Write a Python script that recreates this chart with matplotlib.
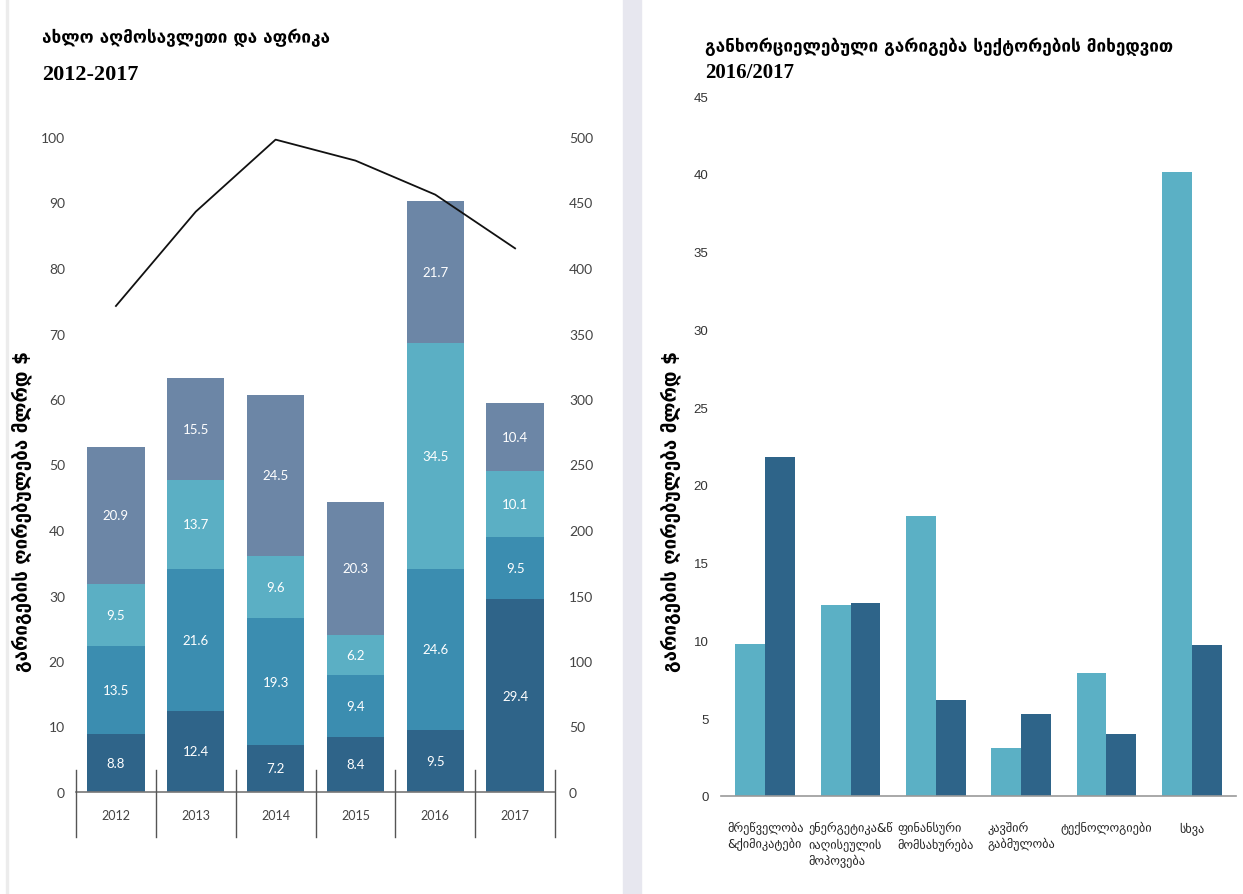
import numpy as np
import matplotlib.pyplot as plt
from matplotlib.patches import Rectangle

# stacked deal values by year, bn $
years = ['2012', '2013', '2014', '2015', '2016', '2017']
seg1 = [8.8, 12.4, 7.2, 8.4, 9.5, 29.4]
seg2 = [13.5, 21.6, 19.3, 9.4, 24.6, 9.5]
seg3 = [9.5, 13.7, 9.6, 6.2, 34.5, 10.1]
seg4 = [20.9, 15.5, 24.5, 20.3, 21.7, 10.4]
deal_count = [371, 443, 498, 482, 456, 415]

# deal value by sector
sectors = ['მრეწველობა\n&ქიმიკატები', 'ენერგეტიკა&წ\nიაღისეულის\nმოპოვება',
           'ფინანსური\nმომსახურება', 'კავშირ\nგაბმულობა', 'ტექნოლოგიები', 'სხვა']
val_2016 = [9.8, 12.3, 18.0, 3.1, 7.9, 40.1]
val_2017 = [21.8, 12.4, 6.2, 5.3, 4.0, 9.7]

seg_colors = ['#2f6489', '#3b8db0', '#5bafc4', '#6c86a6']
light = '#5bb0c5'
dark = '#2e6489'

ylabel = 'გარიგების ღირებულება მლრდ $'
num_font = ['Lato', 'DejaVu Sans']
serif = ['Liberation Serif', 'DejaVu Serif']

W, H = 1243, 895
fig = plt.figure(figsize=(W / 100, H / 100), dpi=100)
fig.patch.set_facecolor('white')

# panel divider and left edge strip
fig.patches.append(Rectangle((623 / W, 0), 18 / W, 1, transform=fig.transFigure,
                             color='#e7e7ef', zorder=0))
fig.patches.append(Rectangle((6 / W, 0), 2 / W, 1, transform=fig.transFigure,
                             color='#ececec', zorder=0))

# ---- left chart ----
ax = fig.add_axes([76 / W, 1 - 793 / H, 479 / W, 655 / H])
x = np.arange(len(years))
bottom = np.zeros(len(years))
for vals, c in zip([seg1, seg2, seg3, seg4], seg_colors):
    vals = np.array(vals)
    ax.bar(x, vals, 0.72, bottom=bottom, color=c, zorder=2)
    for xi, b, v in zip(x, bottom, vals):
        ax.text(xi, b + v / 2, f'{v:g}', ha='center', va='center', color='white',
                fontsize=9.5, family=num_font, zorder=3)
    bottom += vals

ax.set_xlim(-0.5, 5.5)
ax.set_ylim(0, 100)
ax.set_yticks(range(0, 101, 10))
ax.set_xticks(x)
ax.set_xticklabels(years)
ax.tick_params(axis='both', length=0, labelsize=10, labelcolor='#444')
ax.tick_params(axis='x', pad=12, labelsize=9)
ax.tick_params(axis='y', pad=8)
for lab in ax.get_xticklabels() + ax.get_yticklabels():
    lab.set_family(num_font)
for s in ['top', 'right', 'left']:
    ax.spines[s].set_visible(False)
ax.spines['bottom'].set_color('#777')
ax.spines['bottom'].set_linewidth(1.2)
for b in np.arange(-0.5, 6, 1):
    ax.plot([b, b], [0.034, -0.069], color='#555', lw=1,
            transform=ax.get_xaxis_transform(), clip_on=False, zorder=3)

ax2 = ax.twinx()
ax2.plot(x, deal_count, color='#111', lw=1.3, zorder=4)
ax2.set_ylim(0, 500)
ax2.set_yticks(range(0, 501, 50))
ax2.tick_params(axis='y', length=0, labelsize=10, labelcolor='#444', pad=10)
for lab in ax2.get_yticklabels():
    lab.set_family(num_font)
for s in ax2.spines.values():
    s.set_visible(False)

fig.text(22 / W, 1 - 512 / H, ylabel, rotation=90, ha='center', va='center',
         fontsize=13.5, fontweight='bold', family='DejaVu Sans')
fig.text(42 / W, 1 - 38 / H, 'ახლო აღმოსავლეთი და აფრიკა', ha='left', va='center',
         fontsize=12.3, fontweight='bold', family='DejaVu Sans')
fig.text(42 / W, 1 - 75 / H, '2012-2017', ha='left', va='center',
         fontsize=16, fontweight='bold', family=serif)

# ---- right chart ----
bx = fig.add_axes([721 / W, 1 - 797 / H, 515 / W, 700 / H])
xs = np.arange(len(sectors))
bw = 0.35
bx.bar(xs - bw / 2, val_2016, bw, color=light, zorder=2)
bx.bar(xs + bw / 2, val_2017, bw, color=dark, zorder=2)
bx.set_xlim(-0.52, 5.52)
bx.set_ylim(0, 45)
bx.set_yticks(range(0, 46, 5))
bx.set_xticks(xs)
bx.set_xticklabels(sectors, multialignment='left', fontsize=8.8,
                   family='DejaVu Sans', color='#222', va='top', linespacing=1.35)
bx.tick_params(axis='both', length=0)
bx.tick_params(axis='x', pad=18)
bx.tick_params(axis='y', labelsize=9.5, labelcolor='#333', pad=9)
for lab in bx.get_yticklabels():
    lab.set_family(['Liberation Sans', 'DejaVu Sans'])
for s in ['top', 'right', 'left']:
    bx.spines[s].set_visible(False)
bx.spines['bottom'].set_color('#999')
bx.spines['bottom'].set_linewidth(1.2)

fig.text(671 / W, 1 - 512 / H, ylabel, rotation=90, ha='center', va='center',
         fontsize=13.5, fontweight='bold', family='DejaVu Sans')
fig.text(705 / W, 1 - 47 / H, 'განხორციელებული გარიგება სექტორების მიხედვით',
         ha='left', va='center', fontsize=12.3, fontweight='bold', family='DejaVu Sans')
fig.text(705 / W, 1 - 73 / H, '2016/2017', ha='left', va='center',
         fontsize=15, fontweight='bold', family=serif)

fig.savefig('out.png', dpi=100)
